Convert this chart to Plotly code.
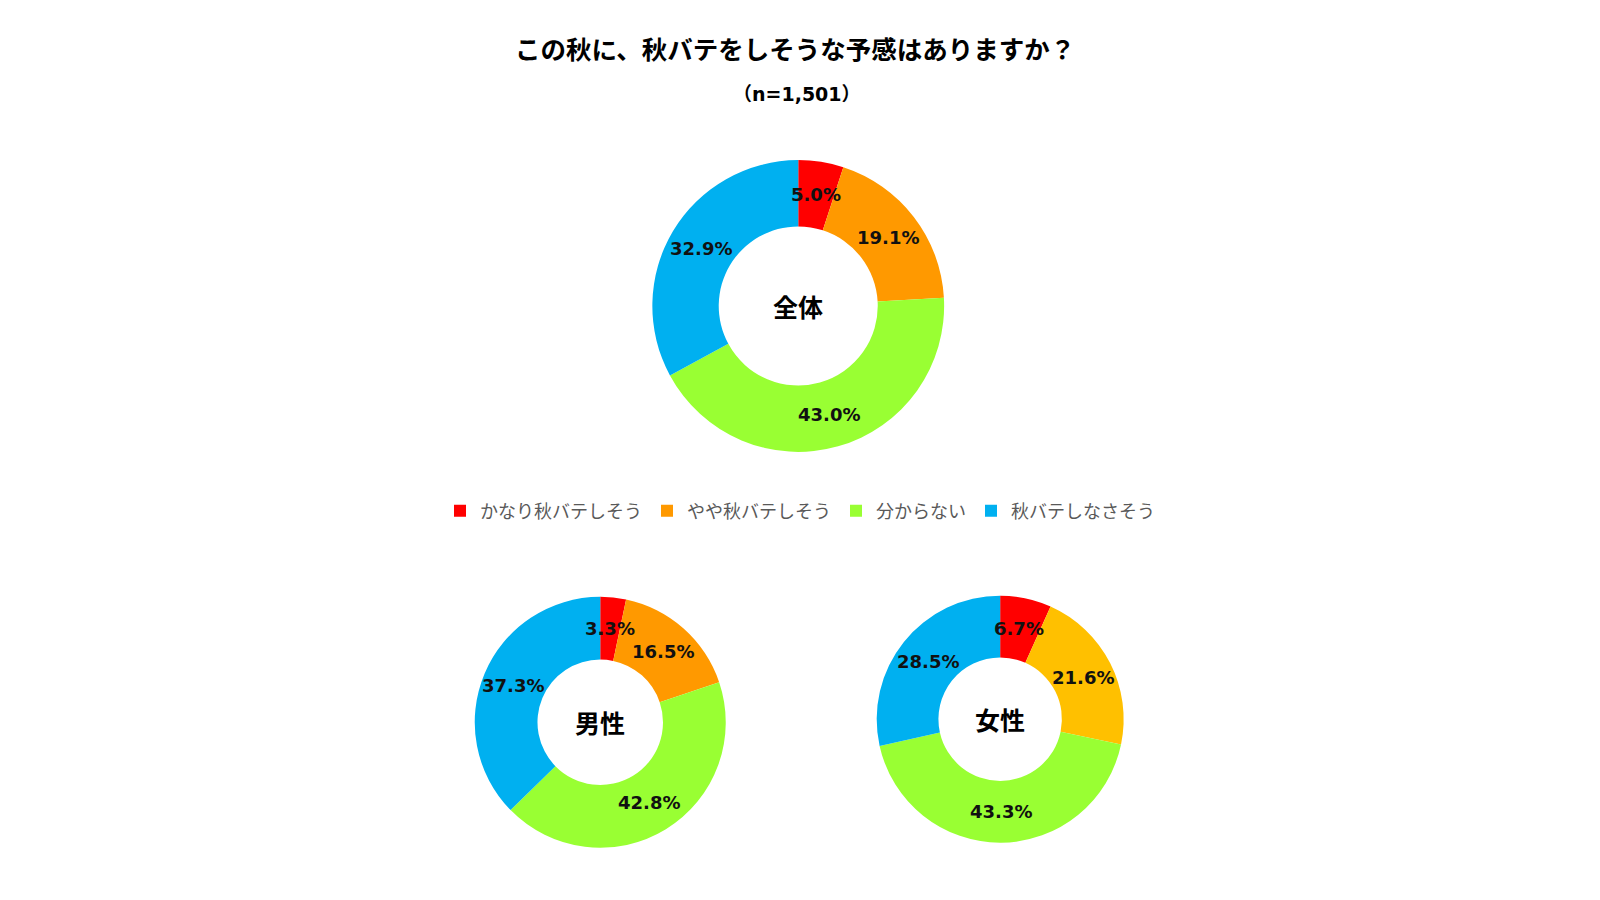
import math
import plotly.graph_objects as go

title = "この秋に、秋バテをしそうな予感はありますか？"
subtitle = "（n=1,501）"
categories = ["かなり秋バテしそう", "やや秋バテしそう", "分からない", "秋バテしなさそう"]
group_names = ["全体", "男性", "女性"]
total_vals = [5.0, 19.1, 43.0, 32.9]
male_vals = [3.3, 16.5, 42.8, 37.3]
female_vals = [6.7, 21.6, 43.3, 28.5]

colors_main = ["#FF0000", "#FF9900", "#99FF33", "#00B0F0"]
colors_female = ["#FF0000", "#FFC000", "#99FF33", "#00B0F0"]

W, H = 1600, 900
FONT = "Noto Sans CJK JP"
NUMFONT = "DejaVu Sans"

fig = go.Figure()

specs = [
    (total_vals, colors_main, [0.4027, 0.5851], [0.5068, 0.8310], 0.545, True),
    (male_vals, colors_main, [0.2917, 0.4486], [0.0669, 0.3458], 0.5, False),
    (female_vals, colors_female, [0.5429, 0.6973], [0.0726, 0.3470], 0.5, False),
]

for (vals, cols, dx, dy, hole, sl), name in zip(specs, group_names):
    fig.add_trace(go.Pie(
        labels=categories, values=vals, name=name,
        marker=dict(colors=cols, line=dict(width=0)),
        hole=hole, sort=False, direction="clockwise", rotation=0,
        domain=dict(x=dx, y=dy),
        textinfo="none",
        showlegend=sl,
    ))
    # geometry of this pie in pixels (pie fills min(w,h) of its domain)
    cx = (dx[0] + dx[1]) / 2 * W
    cy = (dy[0] + dy[1]) / 2 * H
    R = min((dx[1] - dx[0]) * W, (dy[1] - dy[0]) * H) / 2
    rmid = R * (1 + hole) / 2
    total = sum(vals)
    cum = 0.0
    for v in vals:
        ang = 2 * math.pi * (cum + v / 2) / total
        cum += v
        px = cx + rmid * math.sin(ang)
        py = cy + rmid * math.cos(ang)
        fig.add_annotation(
            x=px / W, y=py / H, xref="paper", yref="paper",
            xanchor="center", yanchor="middle",
            text=f"<b>{v:.1f}%</b>", showarrow=False,
            font=dict(family=NUMFONT, size=18, color="#111111"),
        )
    fig.add_annotation(
        x=cx / W, y=cy / H, xref="paper", yref="paper",
        xanchor="center", yanchor="middle",
        text=f"<b>{name}</b>", showarrow=False,
        font=dict(family=FONT, size=25, color="#000000"),
    )

fig.add_annotation(x=787 / W, y=1 - 39 / H, xref="paper", yref="paper",
                   xanchor="center", yanchor="middle",
                   text=f"<b>{title}</b>", showarrow=False,
                   font=dict(family=FONT, size=25.5, color="#000000"))
fig.add_annotation(x=789 / W, y=1 - 86 / H, xref="paper", yref="paper",
                   xanchor="center", yanchor="middle",
                   text=f"<b>{subtitle}</b>", showarrow=False,
                   font=dict(family=NUMFONT + ", " + FONT, size=19, color="#000000"))

fig.update_layout(
    width=W, height=H,
    margin=dict(l=0, r=0, t=0, b=0),
    paper_bgcolor="white", plot_bgcolor="white",
    font=dict(family=FONT),
    legend=dict(orientation="h", x=792 / W, xanchor="center", y=1 - 503 / H, yanchor="middle",
                font=dict(family=FONT, size=18, color="#595959"),
                itemwidth=30, traceorder="normal", itemclick=False),
)

fig.write_html("out.html")
